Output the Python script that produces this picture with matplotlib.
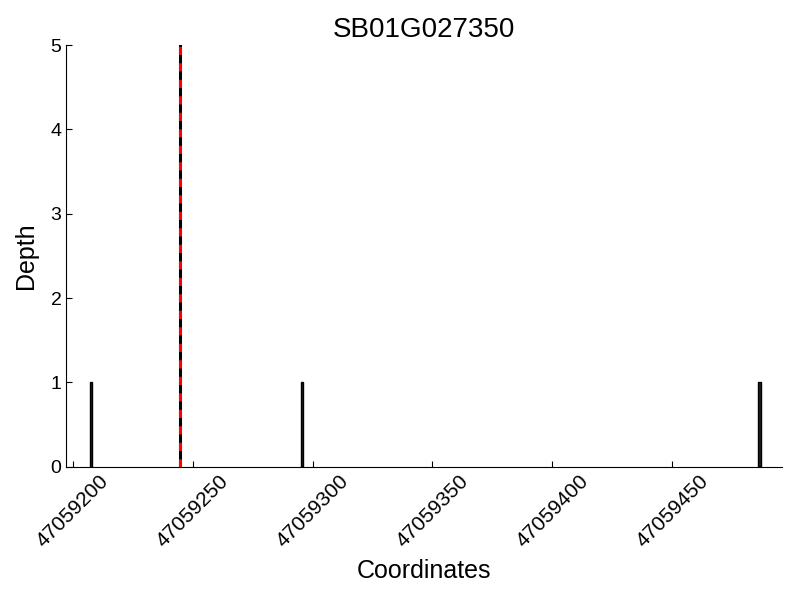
import matplotlib
matplotlib.use("Agg")
import matplotlib.pyplot as plt

plt.rcParams['font.family'] = ['Liberation Sans', 'DejaVu Sans']

title = "SB01G027350"
positions = [47059207, 47059295, 47059486]
depths = [1, 1, 1]
marker_pos = 47059244.6
xticks = [47059200, 47059250, 47059300, 47059350, 47059400, 47059450]

fig = plt.figure(figsize=(8, 6), dpi=100)
ax = fig.add_axes([0.082, 0.222, 0.896, 0.703])
ax.bar(positions, depths, width=1, align='edge', color='#222222', edgecolor='black', linewidth=1)
ax.axvline(marker_pos, color='black', lw=2.2, zorder=3)
ax.axvline(marker_pos, color='red', lw=2.2, linestyle=(0, (2.7, 2.7)), zorder=4)

ax.set_xlim(47059197, 47059496)
ax.set_ylim(0, 5)
ax.set_xticks(xticks)
ax.set_xticklabels([str(t) for t in xticks], rotation=45, ha='center', fontsize=15)
ax.set_yticks([0, 1, 2, 3, 4, 5])
ax.tick_params(axis='y', labelsize=14, pad=3)
ax.tick_params(direction='in', length=4)
ax.spines['top'].set_visible(False)
ax.spines['right'].set_visible(False)
ax.set_xlabel("Coordinates", fontsize=18, labelpad=6)
ax.set_ylabel("Depth", fontsize=18, labelpad=9)
ax.set_title(title, fontsize=20)

fig.savefig("out.png", dpi=100)
